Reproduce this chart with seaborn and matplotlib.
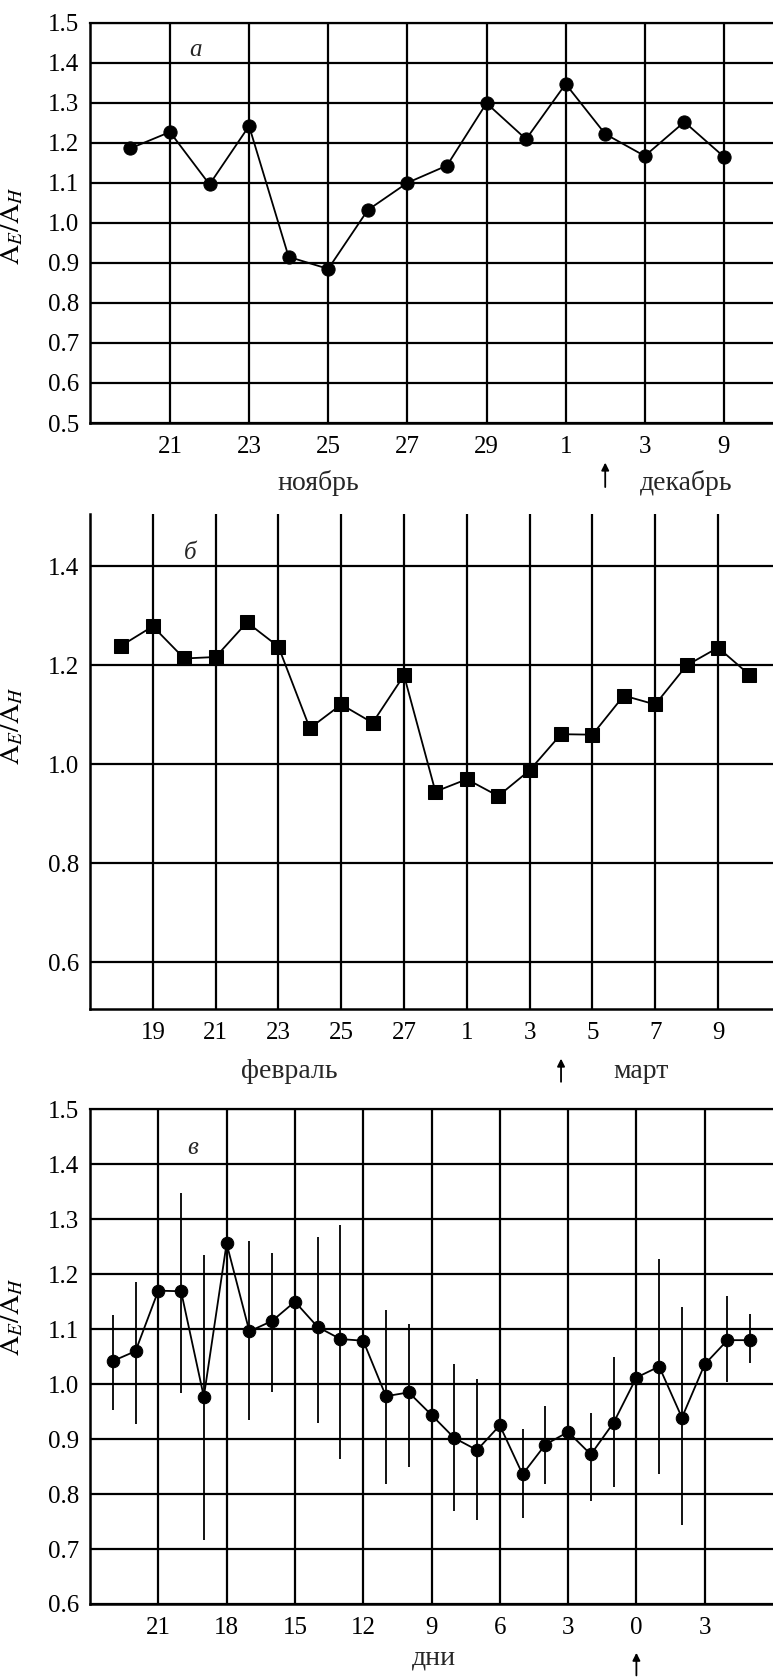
import matplotlib
matplotlib.use("Agg")
import matplotlib.pyplot as plt
import numpy as np
import pandas as pd
import seaborn as sns

# ---------------- data ----------------
# Panel a: November 20 .. December (daily)
a_values = [1.186, 1.227, 1.096, 1.242, 0.915, 0.885, 1.032, 1.100, 1.143,
            1.299, 1.209, 1.347, 1.222, 1.167, 1.252, 1.165]
a_tick_labels = ["21", "23", "25", "27", "29", "1", "3", "9"]
a_yticks = [0.5, 0.6, 0.7, 0.8, 0.9, 1.0, 1.1, 1.2, 1.3, 1.4, 1.5]

# Panel b: February 18 .. March 10 (daily)
b_values = [1.240, 1.279, 1.214, 1.217, 1.287, 1.238, 1.073, 1.121, 1.084,
            1.180, 0.945, 0.970, 0.936, 0.988, 1.061, 1.060, 1.139, 1.121,
            1.200, 1.236, 1.181]
b_tick_labels = ["19", "21", "23", "25", "27", "1", "3", "5", "7", "9"]
b_yticks = [0.6, 0.8, 1.0, 1.2, 1.4]

# Panel c: superposed epoch, days -23 .. 5
c_days = list(range(-23, 6))
c_values = [1.042, 1.060, 1.170, 1.169, 0.977, 1.256, 1.096, 1.115, 1.150,
            1.104, 1.082, 1.079, 0.978, 0.985, 0.944, 0.902, 0.880, 0.925,
            0.836, 0.890, 0.913, 0.872, 0.930, 1.012, 1.032, 0.939, 1.036,
            1.080, 1.080]
c_upper = [1.125, 1.185, 1.283, 1.348, 1.235, 1.496, 1.261, 1.239, 1.277,
           1.268, 1.290, 1.286, 1.135, 1.109, 1.073, 1.036, 1.009, 1.039,
           0.918, 0.961, 0.998, 0.948, 1.049, 1.170, 1.228, 1.141, 1.194,
           1.160, 1.128]
c_lower = [0.953, 0.928, 1.042, 0.983, 0.716, 1.001, 0.935, 0.986, 1.021,
           0.930, 0.864, 0.874, 0.819, 0.850, 0.828, 0.769, 0.753, 0.798,
           0.757, 0.818, 0.830, 0.787, 0.813, 0.848, 0.836, 0.743, 0.886,
           1.003, 1.038]
c_ticks = [-21, -18, -15, -12, -9, -6, -3, 0, 3]
c_tick_labels = ["21", "18", "15", "12", "9", "6", "3", "0", "3"]
c_yticks = [0.6, 0.7, 0.8, 0.9, 1.0, 1.1, 1.2, 1.3, 1.4, 1.5]

# ---------------- style ----------------
sns.set_theme(style="white")
plt.rcParams["font.family"] = ["Liberation Serif", "DejaVu Serif"]
plt.rcParams["mathtext.fontset"] = "stix"

W, H = 773, 1677
fig = plt.figure(figsize=(W / 100, H / 100), dpi=100)

def px_axes(left, top, right, bottom):
    return fig.add_axes([left / W, 1 - bottom / H, (right - left) / W, (bottom - top) / H])

ax_a = px_axes(90, 22.7, 773, 423)
ax_b = px_axes(90, 514, 773, 1009.3)
ax_c = px_axes(90, 1109.3, 773, 1604)

FS = 18      # tick labels
FS_T = 20    # month / axis texts
ylab = r"$\mathrm{A}_{E}/\mathrm{A}_{H}$"

def style(ax, top_spine=True):
    ax.grid(True, color="black", linewidth=1.6)
    ax.set_axisbelow(True)
    for s in ["left", "bottom"]:
        ax.spines[s].set_visible(True)
        ax.spines[s].set_color("black")
        ax.spines[s].set_linewidth(1.8)
    ax.spines["right"].set_visible(False)
    ax.spines["top"].set_visible(top_spine)
    ax.spines["top"].set_color("black")
    ax.spines["top"].set_linewidth(1.6)
    ax.tick_params(axis="both", length=0, labelsize=FS, colors="black")
    ax.tick_params(axis="x", pad=9.5)
    ax.tick_params(axis="y", pad=8)
    ax.set_xlabel("")
    ax.set_ylabel(ylab, fontsize=FS_T, color="black")

def arrow(ax, x, y_head, y_tail):
    ax.annotate("", xy=(x, y_head), xytext=(x, y_tail),
                xycoords=("data", "axes fraction"), textcoords=("data", "axes fraction"),
                arrowprops=dict(arrowstyle="-|>", color="black", lw=1.3, mutation_scale=11),
                annotation_clip=False)

# ---------------- panel a ----------------
df_a = pd.DataFrame({"i": np.arange(len(a_values)), "v": a_values})
sns.lineplot(data=df_a, x="i", y="v", ax=ax_a, color="black", linewidth=1.3,
             marker="o", markersize=9.5, markeredgecolor="black", markerfacecolor="black")
ax_a.set_xlim(-1.02, 16.24)
ax_a.set_ylim(0.5, 1.5)
ax_a.set_xticks(np.arange(1, 16, 2))
ax_a.set_xticklabels(a_tick_labels)
ax_a.set_yticks(a_yticks)
ax_a.set_yticklabels([f"{t:.1f}" for t in a_yticks])
style(ax_a, True)
ax_a.yaxis.set_label_coords(-0.094, 0.492)
ax_a.text(1.65, 1.432, "а", fontsize=FS, style="italic", ha="center", va="center")
arrow(ax_a, 12, -0.092, -0.167)
fig.text(318 / W, 1 - 483 / H, "ноябрь", fontsize=FS_T, ha="center", va="center")
fig.text(686 / W, 1 - 483 / H, "декабрь", fontsize=FS_T, ha="center", va="center")

# ---------------- panel b ----------------
df_b = pd.DataFrame({"i": np.arange(len(b_values)), "v": b_values})
sns.lineplot(data=df_b, x="i", y="v", ax=ax_b, color="black", linewidth=1.3,
             marker="s", markersize=10, markeredgecolor="black", markerfacecolor="black")
ax_b.set_xlim(-1.0, 20.75)
ax_b.set_ylim(0.505, 1.506)
ax_b.set_xticks(np.arange(1, 20, 2))
ax_b.set_xticklabels(b_tick_labels)
ax_b.set_yticks(b_yticks)
ax_b.set_yticklabels([f"{t:.1f}" for t in b_yticks])
style(ax_b, False)
ax_b.yaxis.set_label_coords(-0.094, 0.572)
ax_b.text(2.18, 1.428, "б", fontsize=FS, style="italic", ha="center", va="center")
arrow(ax_b, 14, -0.094, -0.152)
fig.text(289 / W, 1 - 1071 / H, "февраль", fontsize=FS_T, ha="center", va="center")
fig.text(641 / W, 1 - 1071 / H, "март", fontsize=FS_T, ha="center", va="center")

# ---------------- panel c ----------------
ax_c.vlines(c_days, c_lower, c_upper, color="black", linewidth=1.3, zorder=2)
df_c = pd.DataFrame({"d": c_days, "v": c_values})
sns.lineplot(data=df_c, x="d", y="v", ax=ax_c, color="black", linewidth=1.3,
             marker="o", markersize=9, markeredgecolor="black", markerfacecolor="black",
             zorder=3)
ax_c.set_xlim(-24.0, 6.0)
ax_c.set_ylim(0.6, 1.5)
ax_c.set_xticks(c_ticks)
ax_c.set_xticklabels(c_tick_labels)
ax_c.set_yticks(c_yticks)
ax_c.set_yticklabels([f"{t:.1f}" for t in c_yticks])
style(ax_c, True)
ax_c.yaxis.set_label_coords(-0.094, 0.58)
ax_c.text(-19.5, 1.43, "в", fontsize=FS, style="italic", ha="center", va="center")
arrow(ax_c, 0, -0.093, -0.15)
fig.text(433.7 / W, 1 - 1658 / H, "дни", fontsize=FS_T, ha="center", va="center")

fig.savefig("out.png", dpi=100, facecolor="white")
